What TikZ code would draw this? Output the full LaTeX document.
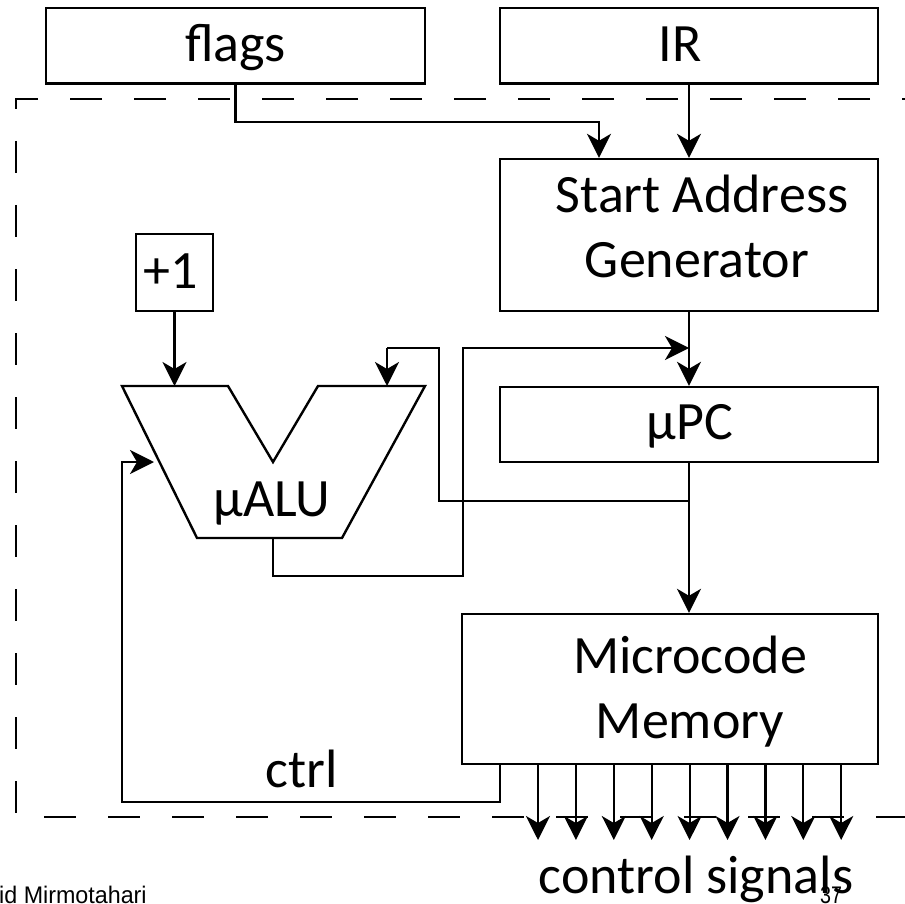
\documentclass[tikz,border=0pt]{standalone}
\usepackage{fontspec}
\usepackage{graphicx}
\setmainfont{Carlito}
\newfontfamily\footfont{Liberation Sans}
\usetikzlibrary{arrows.meta}

\begin{document}
\begin{tikzpicture}[x=1pt,y=-1pt,
  wire/.style={line width=2.2pt},
  arr/.style={wire,-{Stealth[length=24pt,width=24pt,inset=7pt]}},
  blk/.style={draw,line width=2.4pt,rectangle,inner sep=0pt},
  lbl/.style={font=\fontsize{54}{54}\selectfont,anchor=base,inner sep=0pt},
  foot/.style={font=\footfont\fontsize{24}{24}\selectfont,anchor=base,inner sep=0pt},
  frame/.style={line width=2.6pt,dash pattern=on 32pt off 32pt,dash phase=24pt}]
\useasboundingbox (0,0) rectangle (905,904);

% dashed boundary of the control unit
\draw[frame] (910,99) -- (16,99) -- (16,817) -- (910,817);

% blocks
\node[blk,minimum width=379pt,minimum height=75.5pt] (flags) at (235.5,45.75) {};
\node[blk,minimum width=378pt,minimum height=75.5pt] (ir) at (689,45.75) {};
\node[blk,minimum width=378pt,minimum height=152pt] (sag) at (689,235) {};
\node[blk,minimum width=378pt,minimum height=75pt] (upc) at (689,424.5) {};
\node[blk,minimum width=416pt,minimum height=150pt] (mem) at (670,689) {};
\node[blk,minimum width=77pt,minimum height=77pt] (plus) at (174.5,272.5) {};

% micro ALU outline
\draw[line width=2.4pt,line join=miter]
  (122,386) -- (228,386) -- (273,462) -- (318,386) -- (425,386)
  -- (342,538) -- (197,538) -- cycle;
\coordinate (aluA) at (174.5,386);
\coordinate (aluB) at (387,386);
\coordinate (aluC) at (154,462);
\coordinate (aluOut) at (273,538);

% labels
\node[lbl] (tflags) at (235.5,62) {flags};
\node[lbl] (tir) at (680,62) {IR};
\node[lbl] (tsag1) at (702,213) {Start Address};
\node[lbl] (tsag2) at (697,277) {Generator};
\node[lbl] (tupc) at (690,439) {µPC};
\node[lbl] (talu) at (272,516) {µALU};
\node[lbl] (tplus) at (171,288) {+1};
\node[lbl] (tmem1) at (690,673) {Microcode};
\node[lbl] (tmem2) at (690,738) {Memory};
\node[lbl] (tctrl) at (302,787) {ctrl};
\node[lbl] (tsig) at (696,893) {control signals};

% connectors
\coordinate (fj) at (599,122);
\draw[arr] (flags.south) |- (fj) -- (fj |- sag.north);
\draw[arr] (ir.south) -- (ir.south |- sag.north);
\draw[arr] (sag.south) -- (sag.south |- upc.north);
\draw[arr] (plus.south) -- (aluA);
\coordinate (aluUp) at (463,348);
\draw[arr] (aluOut) -- (273,576) -| (aluUp) -- (sag.south |- aluUp);
\draw[arr] (upc.south) -- (upc.south |- mem.north);
\coordinate (tap) at (689,501);
\draw[wire] (tap) -- (439,501) -- (439,348) -- (387,348);
\draw[arr] (387,348) -- (aluB);
\coordinate (ctrlOut) at (500,764);
\draw[arr] (ctrlOut) -- (500,802) -- (122,802) -- (122,462) -- (aluC);

% control signal outputs
\foreach \i in {0,...,8} {
  \coordinate (cs\i) at ({538+37.9*\i},764);
  \draw[arr] (cs\i) -- ++(0,76);
}

% footer
\node[foot,anchor=base west] (author) at (-1,903) {\scalebox{0.97}[1]{id Mirmotahari}};
\node[foot] (page) at (831,903) {\scalebox{0.82}[1]{37}};
\end{tikzpicture}
\end{document}
